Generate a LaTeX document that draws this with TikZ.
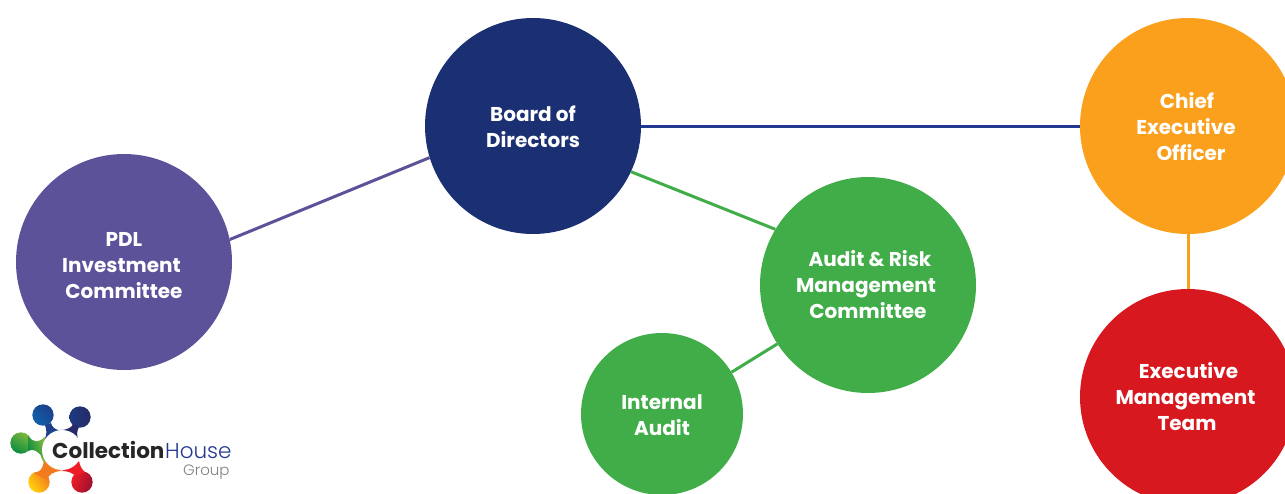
\documentclass[tikz,border=0pt]{standalone}
\usepackage{fontspec}
\setmainfont{Poppins}
\newfontfamily\lightfont{Poppins Light}
\definecolor{navy}{HTML}{1B2F73}
\definecolor{navyline}{HTML}{22398F}
\definecolor{purp}{HTML}{5C5299}
\definecolor{grn}{HTML}{41AD49}
\definecolor{org}{HTML}{FAA01C}
\definecolor{redd}{HTML}{D7181F}
\definecolor{lblueA}{HTML}{0F5FAA}
\definecolor{lblueB}{HTML}{1C4089}
\definecolor{lnavyA}{HTML}{1D3A80}
\definecolor{lnavyB}{HTML}{262B68}
\definecolor{lgreenA}{HTML}{0B8C3E}
\definecolor{lgreenB}{HTML}{7DB83E}
\definecolor{lyelA}{HTML}{FFD40A}
\definecolor{lyelB}{HTML}{F47A20}
\definecolor{lredA}{HTML}{EE1C25}
\definecolor{lredB}{HTML}{9A1030}
\newcommand{\dn}[1]{\rule{0pt}{#1}}
\newcommand{\tr}[1]{\hspace*{#1}\hbox{}}
\tikzset{
 disc/.style={circle,fill=#1,text=white,minimum size=216pt,inner sep=0pt,align=center,font=\fontsize{20}{26}\selectfont\bfseries},
 link/.style={line width=3pt,draw=#1},
 lobe/.style n args={3}{left color=#1,right color=#2,shading angle=#3,draw=none},
 logotext/.style={anchor=base west,inner sep=0pt},
}
\begin{document}
\begin{tikzpicture}[x=1pt,y=-1pt]
\useasboundingbox (0,0) rectangle (1285,493);
\clip (0,0) rectangle (1285,493);
\node[disc=navy] (board) at (533,126) {\dn{16.5pt}Board of\\Directors};
\node[disc=purp] (pdl) at (124,262) {\dn{21pt}PDL\\Investment\tr{5pt}\\Committee};
\node[disc=grn] (audit) at (868,285) {\hspace*{4pt}Audit \& Risk\\Management\tr{4pt}\\Committee};
\node[disc=org] (ceo) at (1188,126) {\dn{17pt}Chief\tr{2pt}\\Executive\tr{4pt}\\\hspace*{6pt}Officer};
\node[disc=redd] (emt) at (1188,397) {\hspace*{1pt}Executive\\Management\tr{5pt}\\Team\tr{2pt}};
\node[disc=grn,minimum size=162pt] (ia) at (662,414) {\dn{17pt}Internal\\Audit};
\draw[link=purp] (board.197.9) -- (pdl.12.9);
\draw[link=navyline] (board.east) -- (ceo.west);
\draw[link=grn] (board.-25.8) -- (audit.149);
\draw[link=grn] (ia.31.3) -- (audit.213);
\draw[link=org] (ceo.south) -- (emt.north);
% logo
\draw[line width=3pt,lgreenB] (62,450) ++(140:20.5) arc[start angle=140,end angle=180,radius=20.5];
\draw[line width=3pt,lyelA] (62,450) ++(180:20.5) arc[start angle=180,end angle=215,radius=20.5];
\shade[lobe={lblueA}{lblueB}{135}] (43,415) circle[radius=10.7];
\shade[lobe={lnavyA}{lnavyB}{90}] (80,417) circle[radius=10.7];
\shade[lobe={lgreenA}{lgreenB}{150}] (21,443) circle[radius=10.7];
\shade[lobe={lyelA}{lyelB}{125}] (39,482) circle[radius=10.7];
\shade[lobe={lredA}{lredB}{70}] (82,482) circle[radius=10.7];
\fill[lblueB] (45,425) .. controls (47,431) and (47,434) .. (44,441) -- (62,431) .. controls (55,430) and (52,427) .. (51,423) -- cycle;
\fill[lnavyB] (73,424) .. controls (72,427) and (68,430) .. (60,430) -- (79,441) .. controls (76,435) and (77,431) .. (79,427) -- cycle;
\shade[lobe={lgreenA}{lgreenB}{110}] (28,436) .. controls (34,443) and (38,443) .. (45,437) -- (43,458) .. controls (38,451) and (33,448) .. (28,451) -- cycle;
\fill[lyelB] (34,473) .. controls (40,473) and (43,468) .. (44,461) -- (62,471) .. controls (54,471) and (48,475) .. (47,480) -- cycle;
\fill[lredA] (62,471) .. controls (68,471) and (73,473) .. (75,476) -- (85,472) .. controls (82,470) and (80,466) .. (79,461) -- cycle;
\node[circle,fill=white,minimum size=40pt,inner sep=0pt] (lw) at (62,450) {};
\node[logotext,font=\fontsize{21.5}{24}\selectfont\bfseries,text=black!85] (lt1) at (52,458) {Collection};
\node[logotext,font=\fontsize{21.5}{24}\selectfont\lightfont,text=navyline] (lt2) at (165,458) {House};
\node[logotext,font=\fontsize{15}{16}\selectfont\lightfont,text=black!50] (lt3) at (183,475) {Group};
\end{tikzpicture}
\end{document}
